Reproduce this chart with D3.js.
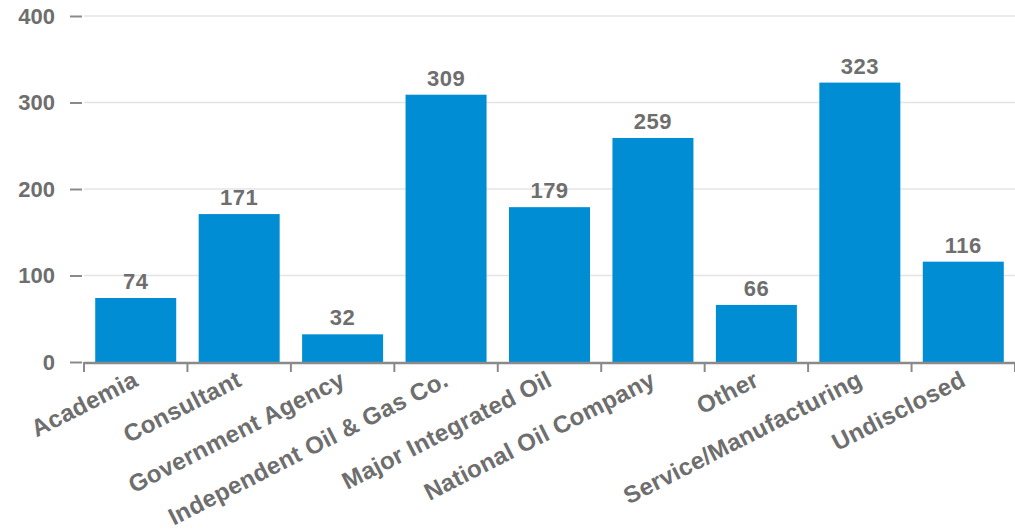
<!DOCTYPE html>
<html>
<head>
<meta charset="utf-8">
<script src="https://cdn.jsdelivr.net/npm/d3@7"></script>
<style>
html,body{margin:0;padding:0;background:#fff;}
svg{display:block;}
</style>
</head>
<body>
<svg id="chart" width="1015" height="530"></svg>
<script>
const categories = ["Academia","Consultant","Government Agency","Independent Oil & Gas Co.","Major Integrated Oil","National Oil Company","Other","Service/Manufacturing","Undisclosed"];
const values = [74,171,32,309,179,259,66,323,116];
const yTicks = [0,100,200,300,400];

(function () {
const svg = d3.select("#chart");
const mLeft = 84, mRight = 1015, mTop = 16, mBottom = 362;
const font = "'Liberation Sans', Arial, sans-serif";
const textColor = "#6e6e6e";

const x = d3.scaleBand().domain(categories).range([mLeft, mRight]).paddingInner(0.217).paddingOuter(0.1085);
const y = d3.scaleLinear().domain([0, 400]).range([mBottom, mTop]);

// gridlines
svg.append("g").selectAll("line").data(yTicks.filter(d => d > 0)).join("line")
  .attr("x1", mLeft).attr("x2", mRight)
  .attr("y1", d => y(d)).attr("y2", d => y(d))
  .attr("stroke", "#e4e4e4").attr("stroke-width", 1.5);

// y axis
const yAxis = svg.append("g").attr("transform", `translate(82,0)`)
  .call(d3.axisLeft(y).tickValues(yTicks).tickSize(12).tickPadding(15).tickFormat(d3.format("d")));
yAxis.select(".domain").remove();
yAxis.selectAll(".tick line").attr("stroke", "#8a8a8a").attr("stroke-width", 2);
yAxis.selectAll(".tick text").attr("fill", textColor).attr("font-family", font)
  .attr("font-weight", "bold").attr("font-size", 22);

// bars
svg.append("g").selectAll("rect").data(values).join("rect")
  .attr("x", (d, i) => x(categories[i]))
  .attr("width", x.bandwidth())
  .attr("y", d => y(d))
  .attr("height", d => y(0) - y(d))
  .attr("fill", "#008dd4");

// value labels
svg.append("g").selectAll("text").data(values).join("text")
  .attr("x", (d, i) => x(categories[i]) + x.bandwidth() / 2)
  .attr("y", d => y(d) - 9)
  .attr("text-anchor", "middle")
  .attr("fill", textColor).attr("font-family", font)
  .attr("font-weight", "bold").attr("font-size", 22)
  .attr("letter-spacing", 0.5)
  .text(d => d);

// x axis line and boundary ticks
const step = x.step();
const bounds = d3.range(categories.length + 1).map(i => mLeft + i * step);
svg.append("line").attr("x1", mLeft).attr("x2", mRight).attr("y1", mBottom + 1).attr("y2", mBottom + 1)
  .attr("stroke", "#8a8a8a").attr("stroke-width", 2.5);
svg.append("g").selectAll("line").data(bounds).join("line")
  .attr("x1", d => d).attr("x2", d => d)
  .attr("y1", mBottom).attr("y2", mBottom + 10)
  .attr("stroke", "#8a8a8a").attr("stroke-width", 2);

// x labels
svg.append("g").selectAll("text").data(categories).join("text")
  .attr("transform", d => `translate(${x(d) + x.bandwidth() / 2 + 4},${mBottom + 23}) rotate(-27)`)
  .attr("text-anchor", "end")
  .attr("fill", textColor).attr("font-family", font)
  .attr("font-weight", "bold").attr("font-size", 24)
  .attr("letter-spacing", 0.3)
  .text(d => d);
})();
</script>
</body>
</html>
